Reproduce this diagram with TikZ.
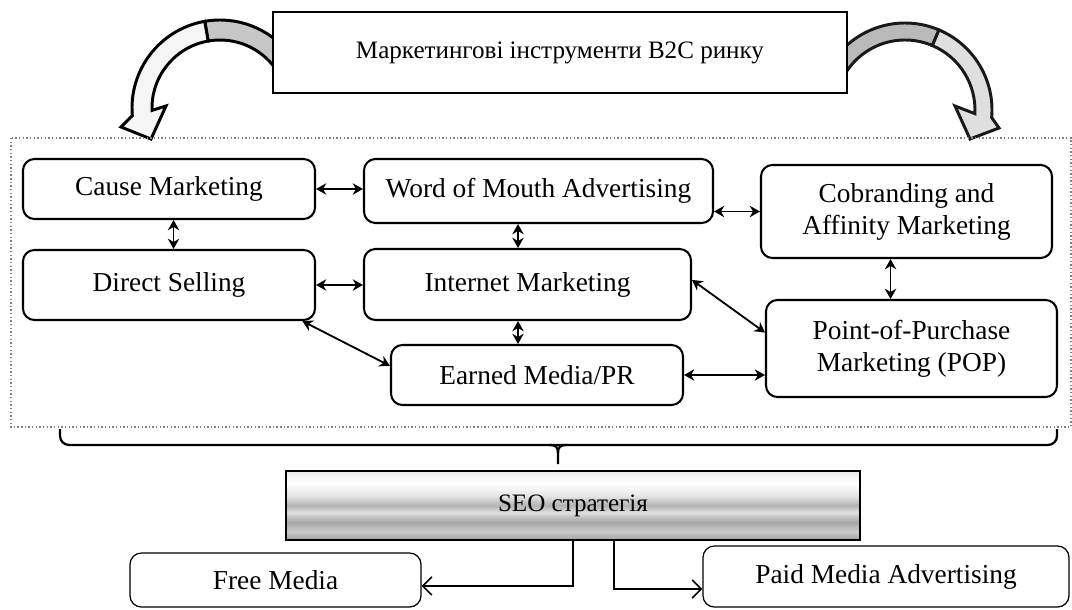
\documentclass[tikz,border=0pt]{standalone}
\usepackage{fontspec}
\setmainfont{Liberation Serif}
\usetikzlibrary{arrows.meta}

\pgfdeclareverticalshading{seometal}{100bp}{color(0bp)=(gray!75); color(25bp)=(gray!75); color(31bp)=(gray!40); color(38bp)=(gray!70); color(45bp)=(gray!25); color(50bp)=(gray!60); color(57bp)=(gray!20); color(66bp)=(white); color(75bp)=(gray!15); color(100bp)=(gray!15)}

\tikzset{
  sz/.style 2 args={minimum width=#1*0.4386pt, minimum height=#2*0.4386pt},
  tool/.style={draw, line width=0.9pt, rounded corners=5pt, align=center, inner sep=1pt, font=\fontsize{12}{14}\selectfont},
  media/.style={tool, line width=0.55pt},
  linkarrow/.style={{Stealth[length=4.5pt,width=5pt]}-{Stealth[length=4.5pt,width=5pt]}, line width=0.8pt},
  seoarrow/.style={-{Straight Barb[length=4pt,width=8pt]}, line width=0.7pt},
}

\begin{document}
\begin{tikzpicture}[x=0.4386pt, y=0.4386pt]
\useasboundingbox (0,0) rectangle (1072,-609);

% curved arrows out of the title
\filldraw[line width=1.3pt, fill=gray!45, line join=round] ([shift={(38:88)}]220,-108) arc[start angle=38, end angle=100, radius=88] -- ([shift={(100:68)}]220,-108) arc[start angle=100, end angle=35, radius=68] -- cycle;
\filldraw[line width=1.3pt, fill=gray!8] ([shift={(100:88)}]220,-108) arc[start angle=100, end angle=185, radius=88] -- (121,-127) -- (151,-139) -- (166,-106) -- ([shift={(182:68)}]220,-108) arc[start angle=182, end angle=100, radius=68] -- cycle;

\filldraw[line width=1.3pt, draw=gray!20!black, fill=gray!55, line join=round] ([shift={(142:87)}]905,-110) arc[start angle=142, end angle=67, radius=87] -- ([shift={(67:70)}]905,-110) arc[start angle=67, end angle=150, radius=70] -- cycle;
\filldraw[line width=1.3pt, draw=gray!20!black, fill=gray!25] ([shift={(67:87)}]905,-110) arc[start angle=67, end angle=-5, radius=87] -- (999,-128) -- (970,-139) -- (955,-106) -- ([shift={(-3:70)}]905,-110) arc[start angle=-3, end angle=67, radius=70] -- cycle;

\node[draw, line width=0.7pt, fill=white, sz={574}{81}, font=\fontsize{11}{13}\selectfont] (title) at (560,-52.5) {Маркетингові інструменти B2C ринку};

% instruments
\draw[gray, densely dotted, line width=0.6pt] (11,-138) rectangle (1071,-427);

\node[tool, sz={292}{60}] (cause) at (169,-189) {Cause Marketing};
\node[tool, sz={292}{70}] (direct) at (169,-285) {Direct Selling};
\node[tool, sz={349}{64}] (wom) at (538.5,-191) {Word of Mouth Advertising};
\node[tool, sz={327}{71}] (internet) at (527.5,-284.5) {Internet Marketing};
\node[tool, sz={292}{60}] (earned) at (537,-375) {Earned Media/PR};
\node[tool, sz={291}{93}] (cobrand) at (906.5,-211.5) {Cobranding and\\Affinity Marketing};
\node[tool, sz={291}{97}] (pop) at (911.5,-348.5) {Point-of-Purchase\\Marketing (POP)};

\coordinate (midx) at (518,0);
\draw[linkarrow] (cause.east) -- (cause.east -| wom.west);
\draw[linkarrow] ([xshift=2pt]cause.south) -- ([xshift=2pt]direct.north);
\draw[linkarrow] (direct.east) -- (direct.east -| internet.west);
\draw[linkarrow] (wom.south -| midx) -- (internet.north -| midx);
\draw[linkarrow] (internet.south -| midx) -- (earned.north -| midx);
\draw[linkarrow] (cobrand.west -| wom.east) -- (cobrand.west);
\draw[linkarrow] ([xshift=-7pt]cobrand.south) -- ([xshift=-7pt]cobrand.south |- pop.north);
\draw[linkarrow] ([yshift=2pt]internet.east) -- ([yshift=7pt]pop.west);
\draw[linkarrow] ([xshift=-6pt]direct.south east) -- ([yshift=4pt]earned.west);
\draw[linkarrow] (earned.east) -- (earned.east -| pop.west);

% brace
\draw[line width=1pt, rounded corners=4pt] (60,-429) -- (60,-445) -- (1057,-445) -- (1057,-429);
\draw[line width=1pt] (549,-445) .. controls (556,-445) and (558,-447) .. (558,-453) -- (558,-464);
\draw[line width=1pt] (567,-445) .. controls (560,-445) and (558,-447) .. (558,-453);

% seo
\node[draw, line width=0.5pt, shading=seometal, sz={574}{69}, font=\fontsize{11}{13}\selectfont] (seo) at (573,-505.5) {SEO стратегія};
\node[media, sz={291}{54}] (free) at (275.5,-580) {Free Media};
\node[media, sz={366}{61}] (paid) at (886,-576.5) {Paid Media Advertising};

\draw[seoarrow] (seo.south) |- ([yshift=-2.6pt]free.east);
\draw[seoarrow] ([xshift=18pt]seo.south) |- ([yshift=-5.5pt]paid.west);

\end{tikzpicture}
\end{document}
